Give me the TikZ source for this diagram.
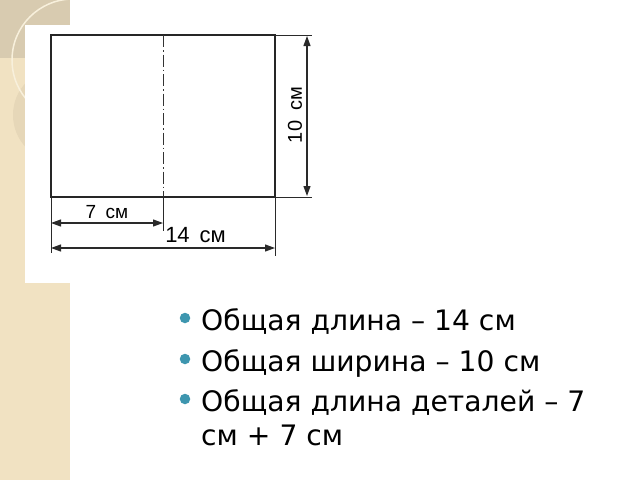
\documentclass[tikz,border=0pt]{standalone}
\usepackage{fontspec}
\setmainfont{DejaVu Sans}
\newfontfamily\dimfont{Liberation Sans}
\usetikzlibrary{arrows.meta}
\definecolor{strip}{HTML}{F1E2C2}
\definecolor{stripdark}{HTML}{D8CBB0}
\definecolor{stripmid}{HTML}{E6D7B8}
\definecolor{arcc}{HTML}{F8F0DC}
\definecolor{bul}{HTML}{3E96AF}
\definecolor{dimc}{HTML}{2A2A2A}
\begin{document}
\begin{tikzpicture}[x=1pt,y=-1pt,
 outline/.style={line width=1.5pt, black!85},
 centerline/.style={line width=1pt, black!80, dash pattern=on 12pt off 3pt on 1.5pt off 3pt},
 dimline/.style={line width=1.1pt, dimc, {Triangle[length=10pt,width=7pt]}-{Triangle[length=10pt,width=7pt]}},
 extline/.style={line width=0.7pt, dimc},
 dimlabel/.style={font=\dimfont\fontsize{19}{19}\selectfont, inner sep=0},
 biglabel/.style={font=\dimfont\fontsize{22}{22}\selectfont, inner sep=0},
 bullettext/.style={anchor=base west, inner sep=0, font=\fontsize{28.2}{28.2}\selectfont},
 bulletdot/.style={circle, fill=bul, minimum size=10.5pt, inner sep=0}]
\useasboundingbox (0,0) rectangle (640,480);
\fill[white] (0,0) rectangle (640,480);
% decorative left strip
\fill[strip] (0,0) rectangle (70,480);
\begin{scope}
\clip (0,0) rectangle (70,480);
\fill[stripdark] (0,0) rectangle (70,58);
\fill[stripmid] (60,115) circle (47);
\draw[arcc, line width=1.5pt] (73,60) circle (61);
\end{scope}
% picture panel
\fill[white] (25,25) rectangle (330,283);
% drawing
\coordinate (TL) at (51,35);
\coordinate (TR) at (275,35);
\coordinate (BR) at (275,197);
\coordinate (BL) at (51,197);
\coordinate (MT) at (163,35);
\coordinate (MB) at (163,197);
\coordinate (TRx) at (312,35);
\coordinate (BRx) at (312,197);
\coordinate (BLd) at (51,253);
\coordinate (MBd) at (163,231);
\coordinate (BRd) at (275,256);
\coordinate (V1) at (307,36);
\coordinate (V2) at (307,196);
\coordinate (A1) at (51,223);
\coordinate (A2) at (163,223);
\coordinate (B1) at (51,248);
\coordinate (B2) at (275,248);
\draw[extline] (TR) -- (TRx);
\draw[extline] (BR) -- (BRx);
\draw[extline] (BL) -- (BLd);
\draw[extline] (MB) -- (MBd);
\draw[extline] (BR) -- (BRd);
\draw[outline] (TL) rectangle (BR);
\draw[centerline] (MT) -- (MB);
\draw[dimline] (V1) -- (V2);
\draw[dimline] (A1) -- (A2);
\draw[dimline] (B1) -- (B2);
\node[dimlabel] (l7) at (107,212) {7\hspace{0.5em}см};
\node[biglabel] (l14) at (195.5,235) {14\hspace{0.45em}см};
\node[dimlabel, font=\dimfont\fontsize{20}{20}\selectfont, rotate=90] (l10) at (295,115) {10\hspace{0.5em}см};
% bullet list
\node[bulletdot] (d1) at (185,318) {};
\node[bulletdot] (d2) at (185,359) {};
\node[bulletdot] (d3) at (185,399) {};
\node[bullettext] (t1) at (201,330) {Общая длина – 14 см};
\node[bullettext] (t2) at (201,371) {Общая ширина – 10 см};
\node[bullettext] (t3) at (201,411) {Общая длина деталей – 7};
\node[bullettext] (t4) at (201,445) {см + 7 см};
\end{tikzpicture}
\end{document}
